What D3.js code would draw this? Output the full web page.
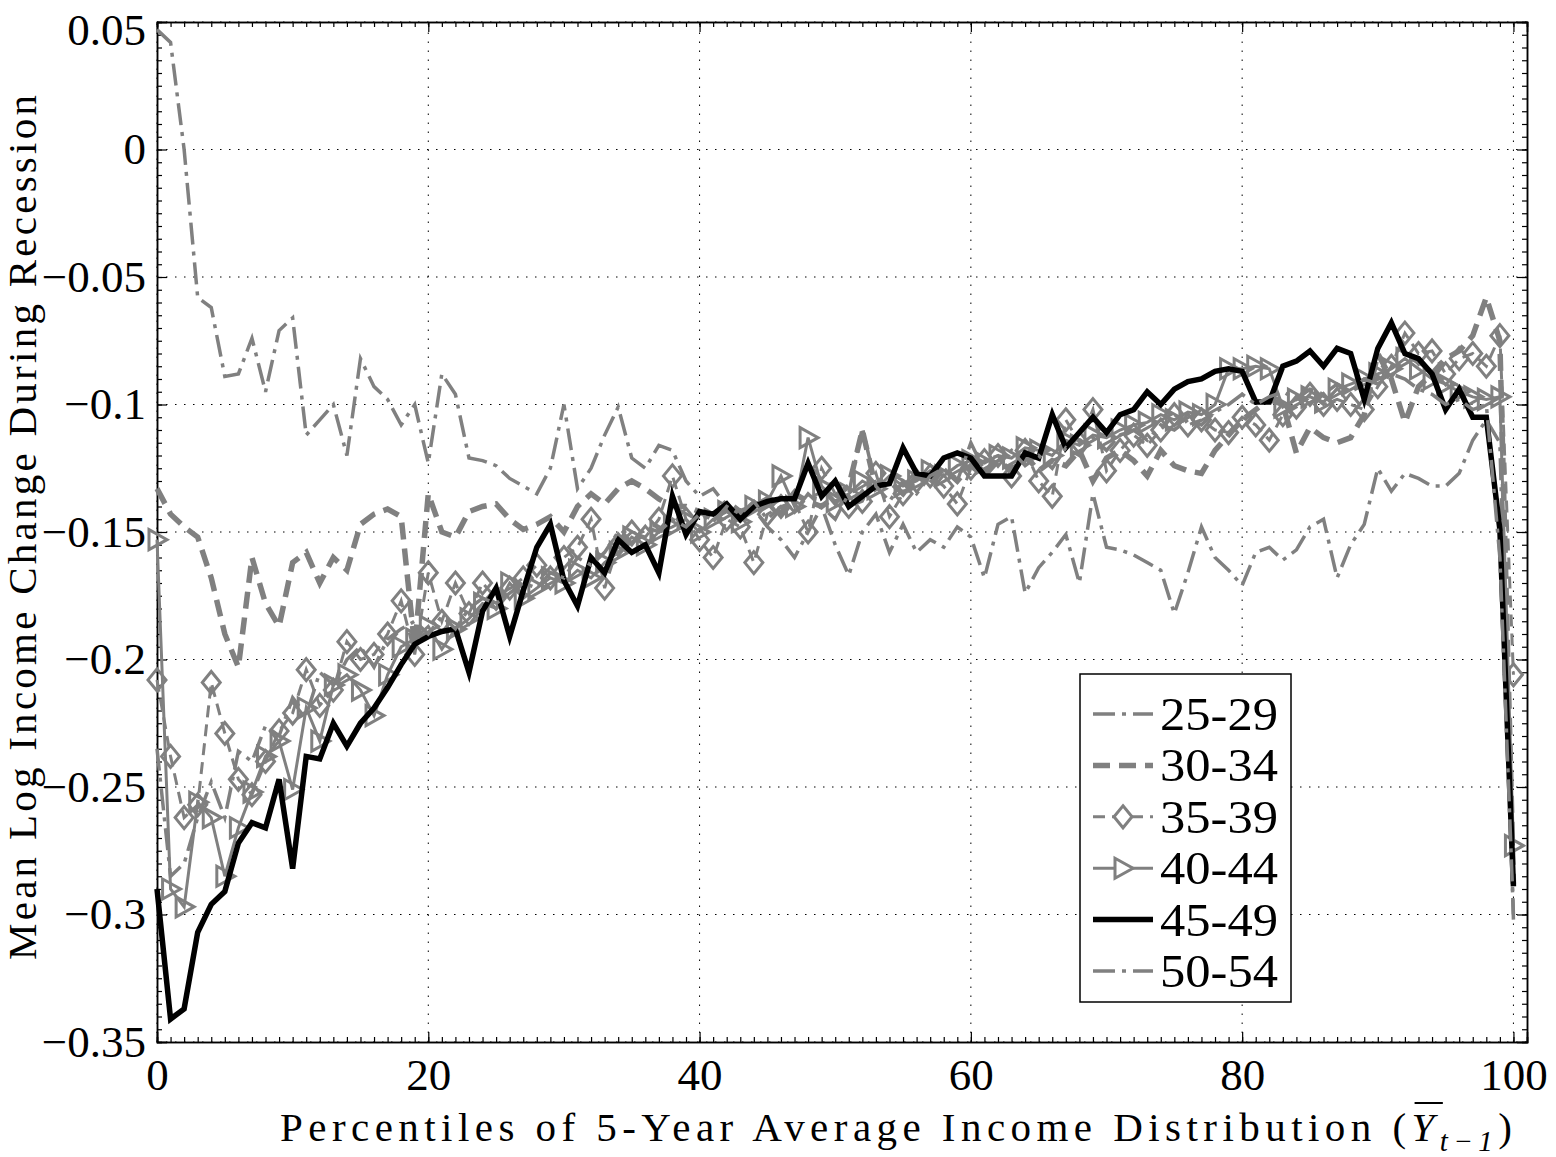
<!DOCTYPE html>
<html>
<head>
<meta charset="utf-8">
<script src="https://cdn.jsdelivr.net/npm/d3@7/dist/d3.min.js"></script>
<style>
  html, body { margin: 0; padding: 0; background: #fff; }
  svg { display: block; }
</style>
</head>
<body>
<svg id="chart" width="1556" height="1157"></svg>
<script>
// ---------------- DATA ----------------
const percentiles = d3.range(0, 101);
const xTicks = [0, 20, 40, 60, 80, 100];
const yTicks = [0.05, 0, -0.05, -0.1, -0.15, -0.2, -0.25, -0.3, -0.35];
const seriesNames = ["25-29", "30-34", "35-39", "40-44", "45-49", "50-54"];

const age2529 = [0.047,0.042,0.000,-0.058,-0.062,-0.089,-0.088,-0.074,-0.095,-0.071,
-0.066,-0.112,-0.106,-0.100,-0.120,-0.082,-0.093,-0.098,-0.108,-0.100,
-0.123,-0.088,-0.096,-0.121,-0.122,-0.124,-0.129,-0.132,-0.135,-0.125,
-0.100,-0.133,-0.125,-0.112,-0.101,-0.121,-0.125,-0.116,-0.118,-0.130,
-0.136,-0.133,-0.140,-0.145,-0.141,-0.148,-0.153,-0.160,-0.150,-0.140,
-0.155,-0.167,-0.150,-0.143,-0.158,-0.147,-0.158,-0.153,-0.156,-0.148,
-0.152,-0.168,-0.147,-0.144,-0.174,-0.164,-0.158,-0.151,-0.170,-0.135,
-0.156,-0.157,-0.159,-0.162,-0.165,-0.182,-0.166,-0.148,-0.160,-0.165,
-0.171,-0.158,-0.156,-0.161,-0.157,-0.148,-0.145,-0.168,-0.155,-0.147,
-0.125,-0.134,-0.127,-0.129,-0.132,-0.132,-0.127,-0.114,-0.106,-0.115,
-0.302];

const age3034 = [-0.133,-0.143,-0.148,-0.152,-0.168,-0.190,-0.203,-0.160,-0.178,-0.187,
-0.162,-0.158,-0.170,-0.160,-0.165,-0.147,-0.143,-0.141,-0.144,-0.195,
-0.135,-0.150,-0.152,-0.142,-0.140,-0.139,-0.145,-0.149,-0.147,-0.144,
-0.150,-0.140,-0.135,-0.139,-0.133,-0.130,-0.133,-0.137,-0.140,-0.140,
-0.142,-0.145,-0.138,-0.142,-0.140,-0.137,-0.143,-0.135,-0.138,-0.140,
-0.136,-0.132,-0.110,-0.133,-0.130,-0.135,-0.128,-0.131,-0.125,-0.130,
-0.124,-0.128,-0.122,-0.126,-0.120,-0.126,-0.122,-0.124,-0.118,-0.130,
-0.121,-0.118,-0.122,-0.128,-0.118,-0.124,-0.126,-0.127,-0.118,-0.112,
-0.106,-0.102,-0.098,-0.100,-0.119,-0.109,-0.113,-0.115,-0.113,-0.104,
-0.080,-0.090,-0.107,-0.093,-0.088,-0.082,-0.079,-0.073,-0.058,-0.075,
-0.288];

const age3539 = [-0.208,-0.238,-0.262,-0.257,-0.209,-0.229,-0.247,-0.253,-0.240,-0.228,
-0.221,-0.204,-0.218,-0.212,-0.193,-0.200,-0.198,-0.190,-0.177,-0.198,
-0.166,-0.185,-0.170,-0.182,-0.170,-0.176,-0.172,-0.168,-0.163,-0.168,
-0.160,-0.156,-0.145,-0.172,-0.155,-0.150,-0.152,-0.145,-0.128,-0.145,
-0.153,-0.160,-0.145,-0.148,-0.162,-0.143,-0.140,-0.138,-0.150,-0.125,
-0.135,-0.140,-0.138,-0.127,-0.144,-0.135,-0.130,-0.128,-0.132,-0.139,
-0.125,-0.122,-0.120,-0.128,-0.118,-0.130,-0.136,-0.106,-0.115,-0.102,
-0.126,-0.118,-0.112,-0.116,-0.110,-0.104,-0.108,-0.106,-0.110,-0.111,
-0.105,-0.108,-0.114,-0.104,-0.101,-0.096,-0.100,-0.098,-0.100,-0.102,
-0.093,-0.085,-0.072,-0.080,-0.079,-0.088,-0.082,-0.080,-0.085,-0.073,
-0.206];

const age4044 = [-0.153,-0.290,-0.297,-0.256,-0.262,-0.285,-0.266,-0.252,-0.238,-0.232,
-0.251,-0.219,-0.232,-0.210,-0.206,-0.212,-0.222,-0.206,-0.195,-0.192,
-0.187,-0.196,-0.188,-0.184,-0.178,-0.180,-0.170,-0.176,-0.172,-0.168,
-0.170,-0.165,-0.168,-0.162,-0.158,-0.152,-0.155,-0.150,-0.148,-0.145,
-0.150,-0.145,-0.142,-0.146,-0.140,-0.138,-0.128,-0.140,-0.113,-0.132,
-0.138,-0.135,-0.130,-0.133,-0.128,-0.132,-0.130,-0.126,-0.128,-0.124,
-0.122,-0.123,-0.120,-0.121,-0.117,-0.118,-0.120,-0.114,-0.116,-0.112,
-0.113,-0.110,-0.108,-0.107,-0.104,-0.106,-0.103,-0.104,-0.100,-0.086,
-0.086,-0.085,-0.086,-0.101,-0.098,-0.097,-0.099,-0.094,-0.092,-0.090,
-0.088,-0.086,-0.082,-0.086,-0.090,-0.092,-0.095,-0.097,-0.098,-0.097,
-0.273];

const age4549 = [-0.290,-0.341,-0.337,-0.307,-0.296,-0.291,-0.272,-0.264,-0.266,-0.247,
-0.282,-0.238,-0.239,-0.225,-0.234,-0.225,-0.219,-0.211,-0.202,-0.194,
-0.191,-0.189,-0.188,-0.205,-0.181,-0.172,-0.191,-0.173,-0.156,-0.147,
-0.169,-0.179,-0.160,-0.166,-0.153,-0.158,-0.155,-0.166,-0.136,-0.151,
-0.142,-0.143,-0.139,-0.145,-0.140,-0.138,-0.137,-0.137,-0.123,-0.136,
-0.130,-0.140,-0.136,-0.132,-0.131,-0.117,-0.127,-0.128,-0.121,-0.119,
-0.121,-0.128,-0.128,-0.128,-0.119,-0.121,-0.104,-0.117,-0.111,-0.105,
-0.111,-0.104,-0.102,-0.095,-0.100,-0.094,-0.091,-0.090,-0.087,-0.086,
-0.087,-0.099,-0.099,-0.085,-0.083,-0.079,-0.085,-0.078,-0.080,-0.098,
-0.078,-0.068,-0.080,-0.082,-0.088,-0.102,-0.094,-0.105,-0.105,-0.149,
-0.289];

const age5054 = [-0.235,-0.285,-0.280,-0.262,-0.248,-0.262,-0.236,-0.240,-0.226,-0.230,
-0.215,-0.222,-0.205,-0.210,-0.200,-0.195,-0.203,-0.192,-0.188,-0.185,
-0.190,-0.183,-0.188,-0.180,-0.176,-0.178,-0.174,-0.170,-0.172,-0.166,
-0.168,-0.160,-0.163,-0.158,-0.150,-0.155,-0.148,-0.150,-0.145,-0.148,
-0.143,-0.146,-0.140,-0.143,-0.138,-0.145,-0.140,-0.142,-0.135,-0.140,
-0.145,-0.135,-0.109,-0.132,-0.138,-0.130,-0.135,-0.128,-0.125,-0.130,
-0.115,-0.126,-0.122,-0.118,-0.124,-0.120,-0.125,-0.117,-0.120,-0.113,
-0.118,-0.112,-0.110,-0.114,-0.108,-0.110,-0.106,-0.108,-0.103,-0.100,
-0.096,-0.100,-0.097,-0.095,-0.098,-0.094,-0.096,-0.092,-0.095,-0.090,
-0.092,-0.088,-0.090,-0.094,-0.096,-0.100,-0.098,-0.102,-0.100,-0.160,
-0.300];

// ---------------- STYLE ----------------
const FONT = "'Liberation Serif', 'DejaVu Serif', serif";
const GRAY = "#808080";
const styles = [
  { values: age2529, color: GRAY, width: 3.5, dash: "22,7,4,7", marker: null },
  { values: age3034, color: GRAY, width: 5.5, dash: "17,9", marker: null },
  { values: age3539, color: GRAY, width: 3, dash: "12,7", marker: "diamond" },
  { values: age4044, color: GRAY, width: 3, dash: null, marker: "triangle" },
  { values: age4549, color: "#000", width: 5.5, dash: null, marker: null },
  { values: age5054, color: GRAY, width: 3.5, dash: "22,7,4,7", marker: null }
];

const svg = d3.select("#chart");
const plotL = 157, plotR = 1527, plotT = 22, plotB = 1042;
const x = d3.scaleLinear().domain([0, 101]).range([plotL, plotR]);
const y = d3.scaleLinear().domain([-0.35, 0.05]).range([plotB, plotT]);

svg.append("rect").attr("x", 0).attr("y", 0).attr("width", 1556).attr("height", 1157).attr("fill", "#fff");

// grid
const grid = svg.append("g").attr("stroke", "#000").attr("stroke-width", 1).attr("stroke-dasharray", "1.5,7.5");
grid.selectAll("line.gx").data(xTicks).join("line").attr("class", "gx")
  .attr("x1", d => x(d)).attr("x2", d => x(d)).attr("y1", plotB).attr("y2", plotT);
grid.selectAll("line.gy").data(yTicks).join("line").attr("class", "gy")
  .attr("y1", d => y(d)).attr("y2", d => y(d)).attr("x1", plotL).attr("x2", plotR);

// axes
const fmt = d3.format("~g");
const minorX = d3.range(0, 102, 1);
const minorY = d3.range(-70, 11, 1).map(v => v * 0.005);

function styleAxis(g) {
  g.attr("font-family", null).attr("font-size", null);
  g.select(".domain").attr("stroke", "#000").attr("stroke-width", 1.5);
  g.selectAll(".tick line").attr("stroke", "#000").attr("stroke-width", 1.2);
  g.selectAll("text").style("font-size", "45px").style("font-family", FONT).attr("fill", "#000");
}
svg.append("g").attr("transform", `translate(0,${plotB})`)
  .call(d3.axisBottom(x).tickValues(minorX).tickSize(-5).tickFormat(""))
  .call(styleAxis);
svg.append("g").attr("transform", `translate(0,${plotB})`)
  .call(d3.axisBottom(x).tickValues(xTicks).tickSize(-10).tickPadding(16).tickFormat(fmt))
  .call(styleAxis);
svg.append("g").attr("transform", `translate(0,${plotT})`)
  .call(d3.axisTop(x).tickValues(minorX).tickSize(-5).tickFormat(""))
  .call(styleAxis);
svg.append("g").attr("transform", `translate(0,${plotT})`)
  .call(d3.axisTop(x).tickValues(xTicks).tickSize(-10).tickFormat(""))
  .call(styleAxis);
svg.append("g").attr("transform", `translate(${plotL},0)`)
  .call(d3.axisLeft(y).tickValues(minorY).tickSize(-5).tickFormat(""))
  .call(styleAxis);
const yAxisG = svg.append("g").attr("transform", `translate(${plotL},0)`)
  .call(d3.axisLeft(y).tickValues(yTicks).tickSize(-10).tickPadding(11).tickFormat(fmt))
  .call(styleAxis);
// keep the top label inside the picture
yAxisG.selectAll(".tick text").filter(d => d === 0.05).attr("dy", "0.5em");
svg.append("g").attr("transform", `translate(${plotR},0)`)
  .call(d3.axisRight(y).tickValues(minorY).tickSize(-5).tickFormat(""))
  .call(styleAxis);
svg.append("g").attr("transform", `translate(${plotR},0)`)
  .call(d3.axisRight(y).tickValues(yTicks).tickSize(-10).tickFormat(""))
  .call(styleAxis);

// series
const line = d3.line().x((d, i) => x(percentiles[i])).y(d => y(d));
const diamondPath = "M0,-11L9,0L0,11L-9,0Z";
const trianglePath = "M-8,-10L10,0L-8,10Z";

styles.forEach((s, k) => {
  const g = svg.append("g").attr("class", "series s" + k);
  g.append("path").datum(s.values)
    .attr("d", line)
    .attr("fill", "none")
    .attr("stroke", s.color)
    .attr("stroke-width", s.width)
    .attr("stroke-linejoin", "miter")
    .attr("stroke-dasharray", s.dash);
  if (s.marker) {
    g.selectAll("path.mk").data(s.values).join("path")
      .attr("class", "mk")
      .attr("d", s.marker === "diamond" ? diamondPath : trianglePath)
      .attr("transform", (d, i) => `translate(${x(percentiles[i])},${y(d)})`)
      .attr("fill", "none")
      .attr("stroke", s.color)
      .attr("stroke-width", 3);
  }
});

// legend
const lg = svg.append("g");
lg.append("rect").attr("x", 1080).attr("y", 674).attr("width", 211).attr("height", 328)
  .attr("fill", "#fff").attr("stroke", "#000").attr("stroke-width", 1.5);
const rowY = d3.scaleLinear().domain([0, 5]).range([714, 971]);
styles.forEach((s, k) => {
  const cy = rowY(k);
  lg.append("line").attr("x1", 1093).attr("x2", 1153).attr("y1", cy).attr("y2", cy)
    .attr("stroke", s.color).attr("stroke-width", s.width).attr("stroke-dasharray", s.dash);
  if (s.marker) {
    lg.append("path").attr("d", s.marker === "diamond" ? diamondPath : trianglePath)
      .attr("transform", `translate(1123,${cy})`)
      .attr("fill", "#fff").attr("stroke", s.color).attr("stroke-width", 3);
  }
  lg.append("text").attr("x", 1160).attr("y", cy + 16)
    .style("font-family", FONT).style("font-size", "46px").attr("fill", "#000")
    .attr("textLength", 118).attr("lengthAdjust", "spacingAndGlyphs")
    .text(seriesNames[k]);
});

// x label
const xl = svg.append("text").attr("x", 280).attr("y", 1141)
  .style("font-family", FONT).style("font-size", "41px").attr("fill", "#000");
xl.append("tspan").text("Percentiles of 5-Year Average Income Distribution (");
xl.append("tspan").attr("font-style", "italic").text("Y");
xl.append("tspan").attr("font-style", "italic").style("font-size", "29px").attr("dy", 10).text("t−1");
xl.append("tspan").attr("dy", -10).text(")");
(function fitX() {
  const node = xl.node();
  const n = node.getNumberOfChars();
  const len = node.getComputedTextLength();
  xl.attr("letter-spacing", (1232 - len) / (n - 1));
  const idx = "Percentiles of 5-Year Average Income Distribution (".length;
  const s0 = node.getStartPositionOfChar(idx);
  const e0 = node.getEndPositionOfChar(idx);
  svg.append("line").attr("x1", s0.x + 3).attr("x2", e0.x + 3).attr("y1", 1103).attr("y2", 1103)
    .attr("stroke", "#000").attr("stroke-width", 2);
})();

// y label
const yl = svg.append("text").attr("transform", "translate(36,960) rotate(-90)")
  .style("font-family", FONT).style("font-size", "41px").attr("fill", "#000")
  .text("Mean Log Income Change During Recession");
(function fitY() {
  const node = yl.node();
  const n = node.getNumberOfChars();
  const len = node.getComputedTextLength();
  yl.attr("letter-spacing", (865 - len) / (n - 1));
})();
</script>
</body>
</html>
